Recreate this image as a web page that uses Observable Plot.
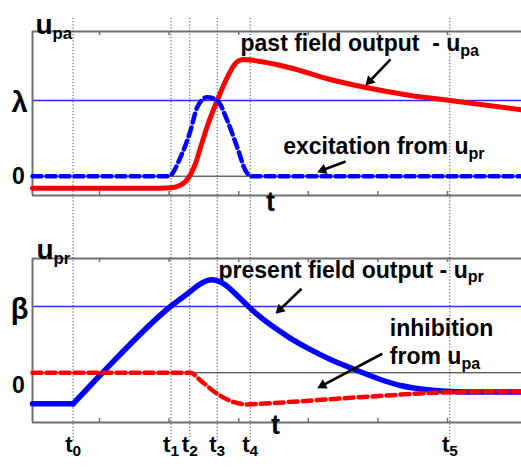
<!DOCTYPE html>
<html><head><meta charset="utf-8">
<script src="https://cdn.jsdelivr.net/npm/d3@7"></script>
<script src="https://cdn.jsdelivr.net/npm/@observablehq/plot@0.6"></script>
<style>
body{margin:0;background:#fff;}
#chart svg{display:block;}
</style></head><body><div id="chart"></div>
<script>
// ---- data ----
const tNames = ["t_0","t_1","t_2","t_3","t_4","t_5"];
const tTimes = [0.62, 2.027, 2.297, 2.691, 3.165, 6.033];
const tickVals = [1, 2, 3, 4, 5, 6];

// past field output u_pa (top, red solid)
const pastT = [0.037, 1.876, 2.020, 2.135, 2.236, 2.307, 2.379, 2.451, 2.547, 2.691, 2.835, 2.930, 2.997, 3.069, 3.170, 3.313, 3.792, 4.272, 4.846, 5.468, 6.033, 7.063];
const pastV = [-0.159, -0.159, -0.153, -0.129, -0.070, 0.022, 0.168, 0.379, 0.657, 1.0, 1.304, 1.462, 1.522, 1.542, 1.535, 1.515, 1.419, 1.287, 1.168, 1.066, 1.0, 0.877];

// excitation from u_pr (top, blue dashed)
const excT = [0.037, 1.996, 2.164, 2.307, 2.404, 2.547, 2.691, 2.835, 2.978, 3.098, 3.170, 7.063];
const excV = [0, 0, 0.251, 0.602, 0.911, 1.044, 1.0, 0.736, 0.383, 0.075, 0, 0];

// present field output u_pr (bottom, blue solid): flat, linear ramp, then smooth
const presT = [0.037, 0.622, 1.043, 2.020, 2.260, 2.451, 2.605, 2.786, 2.978, 3.170, 3.313, 3.529, 3.744, 4.032, 4.319, 4.703, 5.037, 5.325, 5.708, 6.033, 6.474, 7.063];
const presV = [-0.468, -0.468, 0, 1.0, 1.191, 1.342, 1.403, 1.342, 1.165, 0.97, 0.84, 0.67, 0.52, 0.35, 0.20, 0.035, -0.101, -0.192, -0.256, -0.282, -0.29, -0.29];

// inhibition from u_pa (bottom, red dashed)
const inhT = [0.037, 2.307, 2.451, 2.691, 2.930, 3.122, 3.313, 4.750, 6.033, 7.063];
const inhV = [0, 0, -0.116, -0.317, -0.443, -0.478, -0.468, -0.368, -0.294, -0.283];

const topLevels = ["0", "λ"];
const botLevels = ["0", "β"];

// ---- helpers ----
const rows = (T, V) => T.map((t, i) => ({t, v: V[i]}));
const xDom = [0.037, 7.063];
const FONT = "'Liberation Sans', Arial, Helvetica, sans-serif";
const frameC = "#707070";
const refBlue = "#2b2bff";
const WIDTH = 521, ML = 32, MR = 0;

function subscripts(svg) {
  d3.select(svg).selectAll("text").each(function () {
    const s = this.textContent;
    const k = s.indexOf("_");
    if (k < 0) return;
    const fs = +(this.parentNode.getAttribute("font-size") || 22);
    const ratio = fs > 25 ? 0.6 : 0.7;
    const main = s.slice(0, k), sub = s.slice(k + 1);
    this.textContent = "";
    const sel = d3.select(this);
    sel.append("tspan").text(main);
    sel.append("tspan").attr("font-size", ratio + "em").attr("dy", "0.3em").text(sub);
  });
  return svg;
}

// arrows with filled heads: a link plus a rotated filled triangle
function arrowMarks(arrows, kx, ky) {
  const R = 5, tip = Math.sqrt(Math.PI * R * R) * 0.6824;
  const heads = arrows.map(a => {
    const px = (a.x2 - a.x1) * kx, py = -(a.y2 - a.y1) * ky;
    const L = Math.hypot(px, py), ux = px / L, uy = py / L;
    return {x1: a.x1, y1: a.y1, x: a.x2 - ux * tip / kx, y: a.y2 + uy * tip / ky,
            rot: Math.atan2(ux, -uy) * 180 / Math.PI};
  });
  return [
    Plot.link(heads, {x1: "x1", y1: "y1", x2: "x", y2: "y", stroke: "black", strokeWidth: 2.6}),
    Plot.dot(heads, {x: "x", y: "y", symbol: "triangle2", r: R, rotate: "rot", fill: "black", stroke: "none"})
  ];
}

function panel(o) {
  const frameH = o.height - o.marginTop - o.marginBottom;
  const kx = (WIDTH - ML - MR) / (xDom[1] - xDom[0]);
  const ky = frameH / (o.yDom[1] - o.yDom[0]);
  const txt = {fontFamily: FONT, fontWeight: "bold", fill: "black"};
  return Plot.plot({
    width: WIDTH, height: o.height,
    marginLeft: ML, marginRight: MR, marginTop: o.marginTop, marginBottom: o.marginBottom,
    x: {domain: xDom, axis: null},
    y: {domain: o.yDom, axis: null},
    style: {fontFamily: FONT, background: "white", overflow: "visible"},
    marks: [
      Plot.ruleY([0], {stroke: "#222", strokeWidth: 1}),
      Plot.ruleY([1], {stroke: refBlue, strokeWidth: 1.3}),
      // frame (left, top, bottom)
      Plot.ruleX([xDom[0]], {stroke: frameC, strokeWidth: 2}),
      Plot.ruleY([o.yDom[1]], {stroke: frameC, strokeWidth: 2}),
      Plot.ruleY([o.yDom[0]], {stroke: frameC, strokeWidth: 2}),
      // inward ticks
      Plot.ruleX(tickVals, {stroke: frameC, strokeWidth: 1.5, insetTop: frameH - 4}),
      Plot.ruleX(tickVals, {stroke: frameC, strokeWidth: 1.5, insetBottom: frameH - 4}),
      // level labels
      Plot.text([o.levels[0]], {frameAnchor: "left", y: () => 0, text: d => d, dx: -14, dy: o.zeroDy, textAnchor: "middle", fontSize: 23, ...txt}),
      Plot.text([o.levels[1]], {frameAnchor: "left", y: () => 1, text: d => d, dx: -13, dy: o.oneDy, textAnchor: "middle", fontSize: 29, ...txt}),
      // panel variable label
      Plot.text([o.varLabel], {frameAnchor: "top-left", text: d => d, dx: o.varDx, dy: o.varDy, textAnchor: "start", fontSize: 28, ...txt}),
      // "t" label
      Plot.text(["t"], {x: () => o.tX, frameAnchor: "bottom", text: d => d, dy: o.tDy, textAnchor: "middle", fontSize: 27, ...txt}),
      ...o.extraText.map(e => Plot.text([e.s], {x: () => e.x, y: () => e.y, text: d => d, textAnchor: "start", fontSize: 23, ...txt})),
      ...(o.tLabels ? [Plot.text(tNames, {x: (d, i) => tTimes[i], frameAnchor: "bottom", text: d => d, dy: 29, textAnchor: "middle", fontSize: 22, ...txt})] : []),
      // dotted time markers
      Plot.ruleX(tTimes, {stroke: "#444", strokeWidth: 1, strokeDasharray: "1.2,2", insetTop: o.dotTop, insetBottom: o.dotBottom}),
      ...o.curves,
      ...arrowMarks(o.arrows, kx, ky)
    ]
  });
}

const topPlot = panel({
  height: 225, marginTop: 31, marginBottom: 30,
  yDom: [-0.255, 1.911],
  levels: topLevels, zeroDy: 0, oneDy: 2,
  varLabel: "u_pa", varDx: 3, varDy: -17,
  tX: 3.457, tDy: 15.5,
  dotTop: -13, dotBottom: -30,
  extraText: [
    {s: "past field output  - u_pa", x: 3.026, y: 1.753},
    {s: "excitation from u_pr", x: 3.639, y: 0.388}
  ],
  curves: [
    Plot.line(rows(pastT, pastV), {x: "t", y: "v", stroke: "#ff0000", strokeWidth: 5, curve: "monotone-x"}),
    Plot.line(rows(excT, excV), {x: "t", y: "v", stroke: "#0000ff", strokeWidth: 4.5, strokeDasharray: "9,5", curve: "monotone-x"})
  ],
  arrows: [
    {x1: 5.181, y1: 1.542, x2: 4.822, y2: 1.198},
    {x1: 4.535, y1: 0.194, x2: 4.128, y2: 0.053}
  ]
});

const presRows = rows(presT, presV);
const bottomPlot = panel({
  height: 246, marginTop: 33, marginBottom: 49,
  yDom: [-0.750, 1.724],
  levels: botLevels, zeroDy: 13, oneDy: 3,
  varLabel: "u_pr", varDx: 4, varDy: -19,
  tX: 3.529, tDy: 11.5,
  dotTop: -33, dotBottom: -19,
  tLabels: true,
  extraText: [
    {s: "present field output - u_pr", x: 2.710, y: 1.548},
    {s: "inhibition", x: 5.171, y: 0.668},
    {s: "from u_pa", x: 5.171, y: 0.241}
  ],
  curves: [
    Plot.line(presRows.slice(0, 2), {x: "t", y: "v", stroke: "#0000ff", strokeWidth: 5.5, strokeLinecap: "round"}),
    Plot.line(presRows.slice(1), {x: "t", y: "v", stroke: "#0000ff", strokeWidth: 5.5, curve: "monotone-x"}),
    Plot.line(rows(inhT, inhV), {x: "t", y: "v", stroke: "#ff0000", strokeWidth: 4.5, strokeDasharray: "9,5", curve: "monotone-x"})
  ],
  arrows: [
    {x1: 3.902, y1: 1.267, x2: 3.529, y2: 0.890},
    {x1: 5.062, y1: 0.287, x2: 4.128, y2: -0.232}
  ]
});

const chart = document.getElementById("chart");
chart.append(topPlot, bottomPlot);
subscripts(topPlot);
subscripts(bottomPlot);
</script></body></html>
